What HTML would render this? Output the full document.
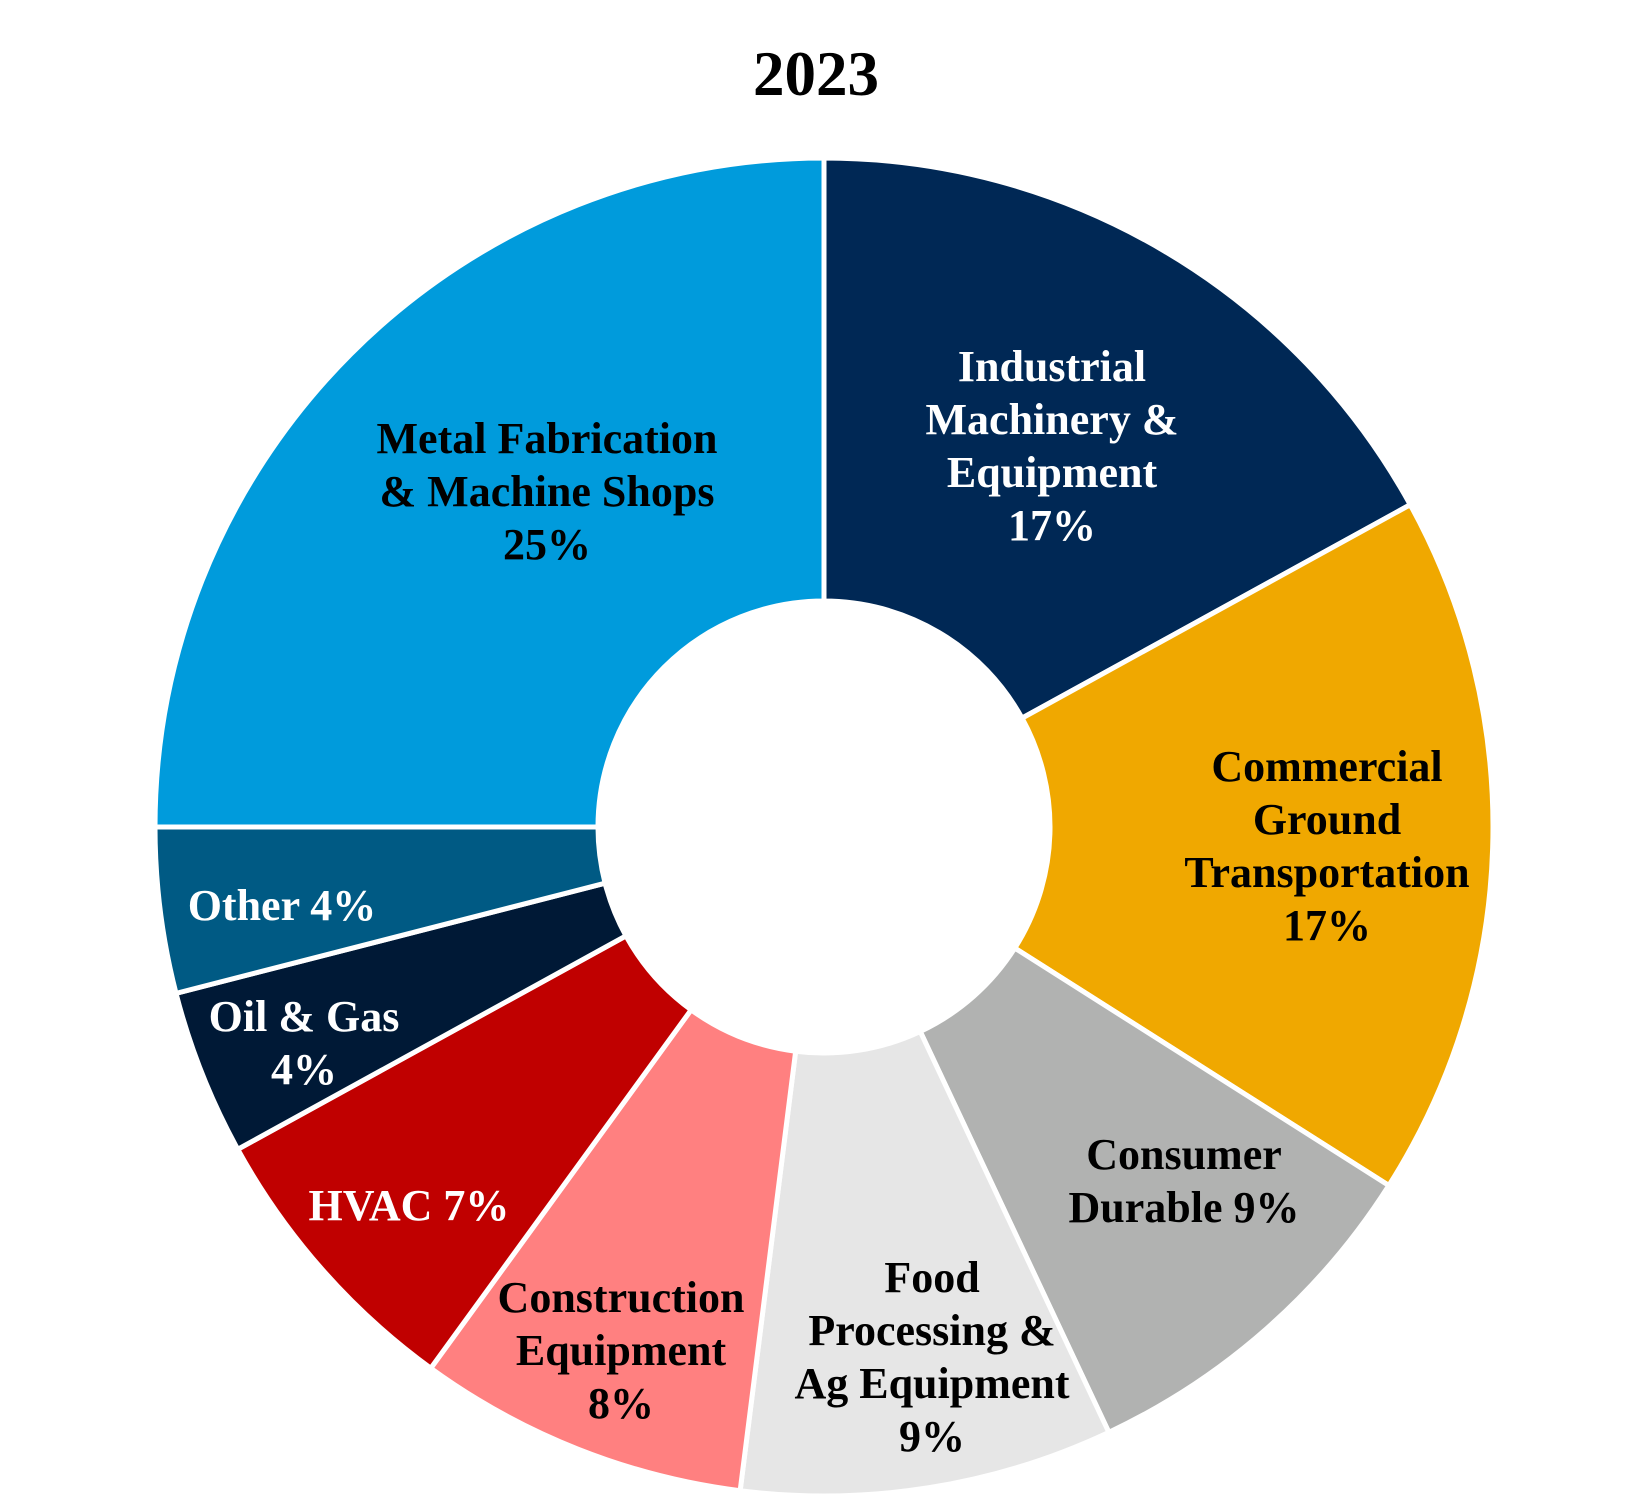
<!DOCTYPE html>
<html><head><meta charset="utf-8"><style>
html,body{margin:0;padding:0;background:#fff;}
svg{display:block;}
text{font-family:"Liberation Serif",serif;font-weight:bold;}
</style></head><body>
<svg id="chart" width="1632" height="1512" viewBox="0 0 1632 1512">
<text x="816" y="95" font-size="63" text-anchor="middle" fill="#000">2023</text>
<g id="slices"></g>
<g id="labels"></g>
</svg>
<script>
const categories = ["Industrial Machinery & Equipment","Commercial Ground Transportation","Consumer Durable","Food Processing & Ag Equipment","Construction Equipment","HVAC","Oil & Gas","Other","Metal Fabrication & Machine Shops"];
const values = [17,17,9,9,8,7,4,4,25];
const colors = ["#002855","#F0A800","#B1B2B1","#E6E6E6","#FF8080","#C00000","#001936","#005A84","#009BDC"];
const labelLines = [["Industrial","Machinery &","Equipment","17%"],["Commercial","Ground","Transportation","17%"],["Consumer","Durable 9%"],["Food","Processing &","Ag Equipment","9%"],["Construction","Equipment","8%"],["HVAC 7%"],["Oil & Gas","4%"],["Other 4%"],["Metal Fabrication","& Machine Shops","25%"]];
const textColors = ["#fff","#000","#000","#000","#000","#fff","#fff","#fff","#000"];
const cx=824, cy=827, R=669, r=226;
const labelPos=[[1052,366],[1327,766],[1184,1154],[932,1277],[621,1297],[409,1205],[304,1016],[282,905],[547,438]];
const NS="http://www.w3.org/2000/svg";
const total=values.reduce((a,b)=>a+b,0);
function pt(rad,a){return [cx+rad*Math.sin(a), cy-rad*Math.cos(a)];}
let acc=0;
const gs=document.getElementById('slices'), gl=document.getElementById('labels');
values.forEach((v,i)=>{
  const a0=acc/total*2*Math.PI, a1=(acc+v)/total*2*Math.PI; acc+=v;
  const large=(a1-a0)>Math.PI?1:0;
  const p0=pt(R,a0),p1=pt(R,a1),q1=pt(r,a1),q0=pt(r,a0);
  const p=document.createElementNS(NS,'path');
  p.setAttribute('d',`M${p0[0]},${p0[1]} A${R},${R} 0 ${large} 1 ${p1[0]},${p1[1]} L${q1[0]},${q1[1]} A${r},${r} 0 ${large} 0 ${q0[0]},${q0[1]} Z`);
  p.setAttribute('fill',colors[i]);p.setAttribute('stroke','#fff');p.setAttribute('stroke-width','5');
  
  
  gs.appendChild(p);
  const t=document.createElementNS(NS,'text');
  
  
  t.setAttribute('text-anchor','middle');t.setAttribute('font-size','44');t.setAttribute('fill',textColors[i]);
  labelLines[i].forEach((ln,j)=>{
    const s=document.createElementNS(NS,'tspan');
    s.setAttribute('x',labelPos[i][0]);s.setAttribute('y',labelPos[i][1]+j*53+15);
    s.textContent=ln;t.appendChild(s);
  });
  gl.appendChild(t);
});
</script>
</body></html>
